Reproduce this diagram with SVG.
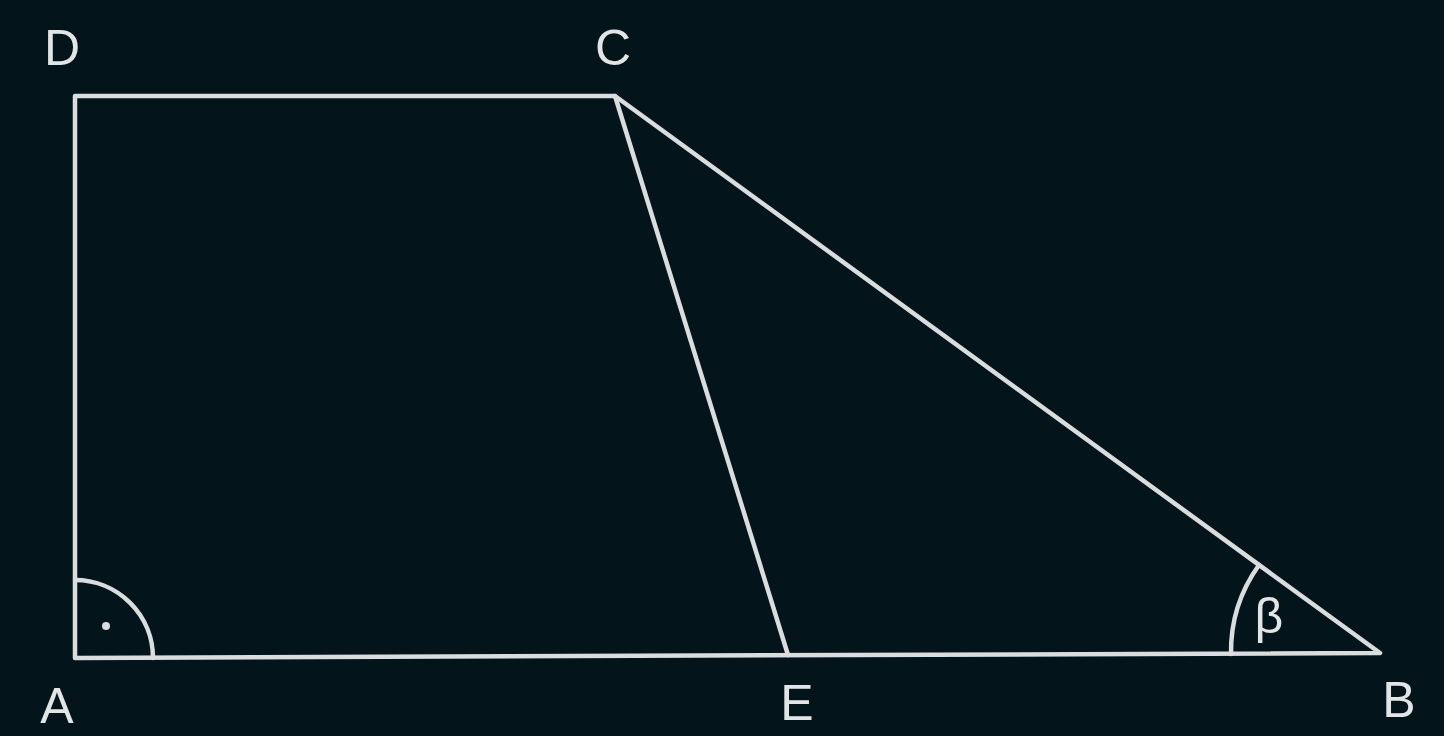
<svg xmlns="http://www.w3.org/2000/svg" width="1444" height="736" viewBox="0 0 1444 736">
<style>
.ln{fill:none;stroke:#d9dddd;stroke-width:4.5;stroke-linecap:round;stroke-linejoin:round}
.lb{font-family:"Liberation Sans",Arial,sans-serif;font-size:50px;fill:#e2e5e5;text-anchor:middle}
</style>
<rect width="1444" height="736" fill="#03141a"/>
<g id="edges">
<polyline class="ln" points="75,658 75,96 615,96 1380,653 75,658"/>
<line class="ln" x1="615" y1="96" x2="788" y2="655"/>
<path class="ln" d="M75,580 A78,78 0 0 1 153,658"/>
<path class="ln" d="M1231,654 A149,149 0 0 1 1259,565"/>
</g>
<circle cx="106" cy="626" r="4" fill="#d9dddd"/>
<g id="A"><text class="lb" x="57" y="723">A</text></g>
<g id="B"><text class="lb" x="1399" y="717">B</text></g>
<g id="C"><text class="lb" x="613" y="65">C</text></g>
<g id="D"><text class="lb" x="62" y="65">D</text></g>
<g id="E"><text class="lb" x="797" y="720">E</text></g>
<text class="lb" x="1269" y="633" style="font-size:50px">β</text>
</svg>
